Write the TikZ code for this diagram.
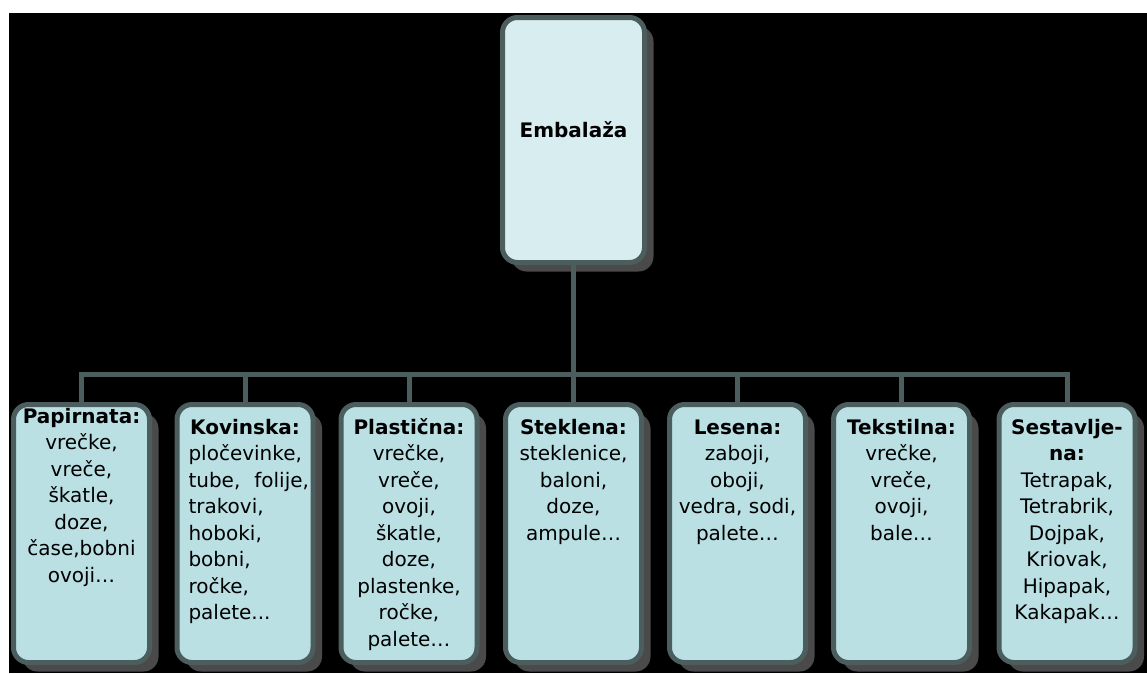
\documentclass[tikz,border=0pt]{standalone}
\usepackage{fontspec}
\setmainfont{DejaVu Sans}
\usetikzlibrary{shadows}
\definecolor{bordc}{HTML}{4B5D5D}
\definecolor{topfill}{HTML}{D7EDF0}
\definecolor{leaffill}{HTML}{BAE0E4}
\definecolor{shadc}{HTML}{4A4A4A}
\newcommand{\leafcontent}[2]{\parbox[c][258pt][t]{136pt}{\centering\vspace*{#1}#2}}
\begin{document}
\begin{tikzpicture}[x=1pt,y=-1pt,
  boxbase/.style={draw=bordc, line width=5pt, rounded corners=15pt, inner sep=0pt, outer sep=0pt,
    drop shadow={shadow xshift=9pt, shadow yshift=-9pt, fill=shadc, opacity=1},
    font=\fontsize{20}{26.5}\selectfont},
  rootbox/.style={boxbase, fill=topfill},
  leafbox/.style={boxbase, fill=leaffill},
  conn/.style={draw=bordc, line width=5pt}]
\useasboundingbox (0,0) rectangle (1147,673);
\fill[white] (0,0) rectangle (1147,673);
\fill[black] (9,13) rectangle (1147,673);

\node[rootbox] (root) at (573.5,140)
  {\parbox[c][245pt][t]{142pt}{\centering\vspace*{101pt}\strut\textbf{Embalaža}}};

\node[leafbox] (b1) at (81.5,533.5) {\leafcontent{0pt}{\strut\textbf{Papirnata:}\\
  vrečke,\\ vreče,\\ škatle,\\ doze,\\ čase,bobni\\ ovoji…}};
\node[leafbox] (b2) at (245,533.5) {\leafcontent{11pt}{\strut\textbf{Kovinska:}\par
  \raggedright\leftskip=11.5pt\rightskip=4pt plus 1fil
  pločevinke,\\ tube,\hfill folije,\\ trakovi,\\ hoboki,\\ bobni,\\ ročke,\\ palete...}};
\node[leafbox] (b3) at (409,533.5) {\leafcontent{11pt}{\strut\textbf{Plastična:}\\
  vrečke,\\ vreče,\\ ovoji,\\ škatle,\\ doze,\\ plastenke,\\ ročke,\\ palete…}};
\node[leafbox] (b4) at (573.5,533.5) {\leafcontent{11pt}{\strut\textbf{Steklena:}\\
  steklenice,\\ baloni,\\ doze,\\ ampule…}};
\node[leafbox] (b5) at (737.5,533.5) {\leafcontent{11pt}{\strut\textbf{Lesena:}\\
  zaboji,\\ oboji,\\ vedra, sodi,\\ palete…}};
\node[leafbox] (b6) at (901.5,533.5) {\leafcontent{11pt}{\strut\textbf{Tekstilna:}\\
  vrečke,\\ vreče,\\ ovoji,\\ bale…}};
\node[leafbox] (b7) at (1067,533.5) {\leafcontent{11pt}{\strut\textbf{Sestavlje-}\\ \textbf{na:}\\
  Tetrapak,\\ Tetrabrik,\\ Dojpak,\\ Kriovak,\\ Hipapak,\\ Kakapak…}};

\coordinate (hub) at (573.5,374);
\draw[conn] (root.south) -- (hub);
\foreach \b in {b1,b2,b3,b4,b5,b6,b7}
  \draw[conn] (hub) -| (\b.north);
\end{tikzpicture}
\end{document}
